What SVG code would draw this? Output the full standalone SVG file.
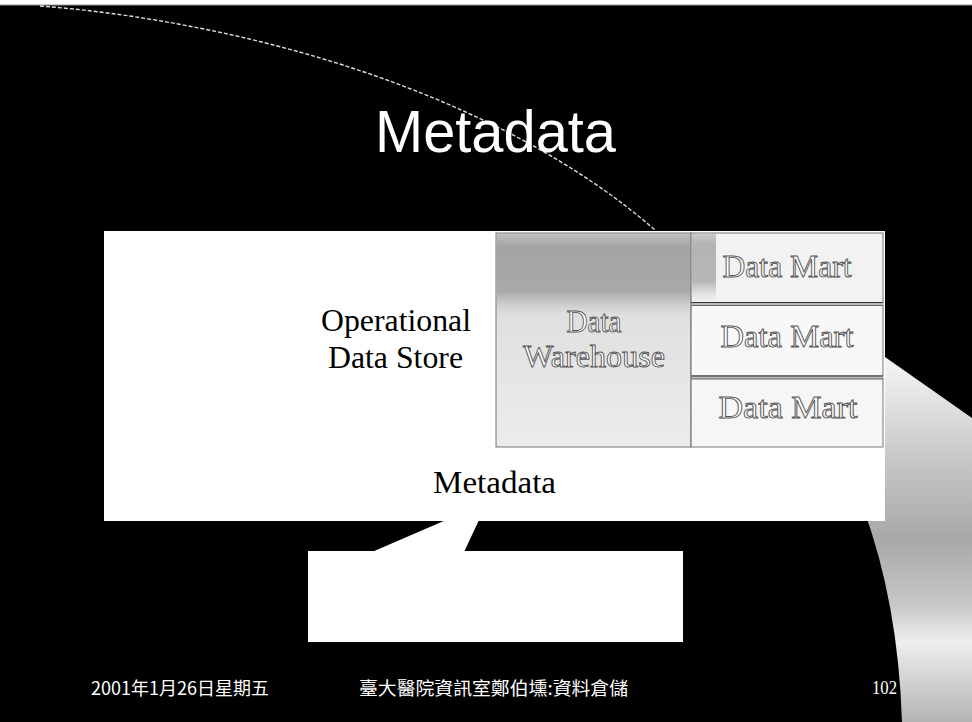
<svg xmlns="http://www.w3.org/2000/svg" width="972" height="722" viewBox="0 0 972 722">
<style>
.serif{font-family:"Liberation Serif","Times New Roman",serif;font-size:31px;fill:#000;text-anchor:middle}
.emb{font-family:"Liberation Serif","Times New Roman",serif;font-size:31px;fill:#fff;stroke:#555;stroke-width:0.9;text-anchor:middle}
.foot{font-family:"Noto Sans CJK TC","Noto Sans CJK SC",sans-serif;font-size:18px;fill:#fff}
.cell{stroke:#777;stroke-width:1}
</style>
<defs>
<linearGradient id="swg" x1="0" y1="0" x2="0" y2="1">
<stop offset="0" stop-color="#f6f6f6"/>
<stop offset="0.3" stop-color="#c4c4c4"/>
<stop offset="0.5" stop-color="#a8a8a8"/>
<stop offset="0.68" stop-color="#c8c8c8"/>
<stop offset="0.78" stop-color="#eeeeee"/>
<stop offset="1" stop-color="#b4b4b4"/>
</linearGradient>
<linearGradient id="band" x1="0" y1="0" x2="0" y2="1">
<stop offset="0" stop-color="#c0c0c0"/>
<stop offset="0.15" stop-color="#a4a4a4"/>
<stop offset="0.7" stop-color="#a8a8a8"/>
<stop offset="1" stop-color="#c8c8c8" stop-opacity="0"/>
</linearGradient>
<linearGradient id="dwl" x1="0" y1="0" x2="0" y2="1">
<stop offset="0" stop-color="#d8d8d8"/>
<stop offset="1" stop-color="#ececec"/>
</linearGradient>
</defs>
<rect x="0" y="0" width="972" height="722" fill="#fff"/>
<rect x="0" y="5" width="972" height="717" fill="#000"/>
<line x1="0" y1="5" x2="972" y2="5" stroke="#999" stroke-width="1"/>
<path d="M 40 6 C 250 22, 500 95, 655 230" fill="none" stroke="#ddd" stroke-width="1.4" stroke-dasharray="4 2"/>
<g id="swoosh">
<path d="M 885 357 L 972 418 L 972 722 L 902 722 Q 898 600 862 505 L 860 357 Z" fill="url(#swg)"/>
</g>
<g id="title">
<text x="495.5" y="152" font-family="Liberation Sans, Arial, sans-serif" font-size="60" fill="#fff" text-anchor="middle" textLength="241" lengthAdjust="spacingAndGlyphs">Metadata</text>
</g>
<g id="metadata">
<rect x="104" y="231" width="781" height="290" fill="#fff"/>
<polygon points="372,552 446,520 479,520 464,552" fill="#fff"/>
<text class="serif" x="494.5" y="493" textLength="123" lengthAdjust="spacingAndGlyphs">Metadata</text>
</g>
<g id="ods">
<text class="serif" x="396" y="331" textLength="150" lengthAdjust="spacingAndGlyphs">Operational</text>
<text class="serif" x="395.5" y="368" textLength="135" lengthAdjust="spacingAndGlyphs">Data Store</text>
</g>
<g id="data-warehouse">
<rect x="496" y="233" width="195" height="214" fill="url(#dwl)" class="cell"/>
<rect x="497" y="234" width="194" height="82" fill="url(#band)"/>
<text class="emb" x="594" y="332" textLength="55" lengthAdjust="spacingAndGlyphs">Data</text>
<text class="emb" x="594" y="367" textLength="142" lengthAdjust="spacingAndGlyphs">Warehouse</text>
</g>
<g id="data-mart-1">
<rect x="691" y="233" width="192" height="70" fill="#f2f2f2" class="cell"/>
<rect x="692" y="234" width="24" height="68" fill="url(#band)" opacity="0.8"/>
<text class="emb" x="787" y="277" textLength="129" lengthAdjust="spacingAndGlyphs">Data Mart</text>
</g>
<g id="data-mart-2">
<rect x="691" y="305" width="192" height="71" fill="#f8f8f8" class="cell"/>
<text class="emb" x="787" y="347" textLength="133" lengthAdjust="spacingAndGlyphs">Data Mart</text>
</g>
<g id="data-mart-3">
<rect x="691" y="378" width="192" height="69" fill="#f6f6f6" class="cell"/>
<text class="emb" x="788" y="418" textLength="139" lengthAdjust="spacingAndGlyphs">Data Mart</text>
</g>
<g id="connectors">
<line x1="691" y1="302.5" x2="883" y2="302.5" stroke="#333" stroke-width="1"/>
<line x1="691" y1="305.5" x2="883" y2="305.5" stroke="#666" stroke-width="1"/>
<line x1="691" y1="376" x2="883" y2="376" stroke="#333" stroke-width="1"/>
<line x1="691" y1="379" x2="883" y2="379" stroke="#666" stroke-width="1"/>
<line x1="691" y1="233" x2="691" y2="447" stroke="#888" stroke-width="1" stroke-dasharray="2 1"/>
</g>
<g id="callout">
<rect x="308" y="551" width="375" height="91" fill="#fff"/>
</g>
<g id="footer">
<text class="foot" x="91" y="695" textLength="178" lengthAdjust="spacingAndGlyphs">2001年1月26日星期五</text>
<text class="foot" x="359" y="695" textLength="269" lengthAdjust="spacingAndGlyphs">臺大醫院資訊室鄭伯壎:資料倉儲</text>
<text x="872" y="694" font-family="Liberation Serif, serif" font-size="18" fill="#fff" textLength="25" lengthAdjust="spacingAndGlyphs">102</text>
</g>
</svg>
